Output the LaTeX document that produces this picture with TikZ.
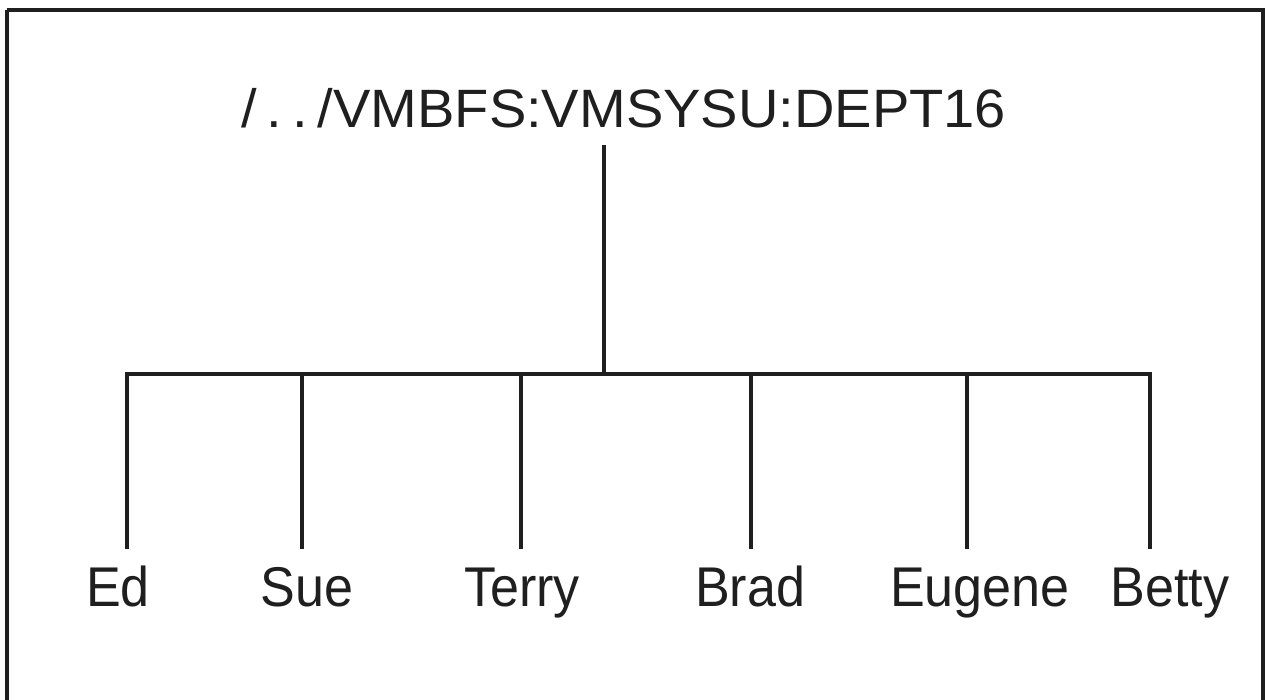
\documentclass[tikz,border=0pt]{standalone}
\usepackage{fontspec}
\setmainfont{Liberation Sans}
\newfontfamily\leaffont[FakeStretch=0.93]{Liberation Sans}
\newfontfamily\rootfont[FakeStretch=1.038]{Liberation Sans}
\tikzset{
  frame/.style={line width=4.5pt, draw=black!88},
  branch/.style={line width=4pt, draw=black!88},
  leaf/.style={anchor=base, inner xsep=0pt, inner ysep=17pt, outer sep=0pt,
    text height=40pt, text depth=12pt, text=black!88,
    font=\leaffont\fontsize{56pt}{60pt}\selectfont},
  rootlbl/.style={anchor=base west, inner sep=0pt, outer sep=0pt, text depth=17pt,
    text=black!88, font=\rootfont\fontsize{54pt}{58pt}\selectfont}
}
\begin{document}
\begin{tikzpicture}[x=1pt,y=-1pt]
\useasboundingbox (0,0) rectangle (1267,700);
\draw[frame] (7,10) -- (7,720) (7,10) -- (1263,10) -- (1263,720);
\node[rootlbl] (root) at (241,128) {/\hspace{10pt}.\hspace{10pt}.\hspace{10pt}/VMBFS:VMSYSU:DEPT16};
\coordinate (j) at (604,374);
\coordinate (b1) at (127,374);
\coordinate (b2) at (302,374);
\coordinate (b3) at (521,374);
\coordinate (b4) at (751,374);
\coordinate (b5) at (967,374);
\coordinate (b6) at (1150,374);
\node[leaf] (ed) at (118,606) {Ed};
\node[leaf] (sue) at (307,606) {Sue};
\node[leaf] (terry) at (522,606) {Terry};
\node[leaf] (brad) at (750,606) {Brad};
\node[leaf] (eugene) at (980,606) {Eugene};
\node[leaf] (betty) at (1170,606) {Betty};
\draw[branch] (root.south -| j) -- (j);
\draw[branch, line cap=rect] (b1) -- (b6);
\draw[branch] (b1) -- (b1 |- ed.north);
\draw[branch] (b2) -- (b2 |- sue.north);
\draw[branch] (b3) -- (b3 |- terry.north);
\draw[branch] (b4) -- (b4 |- brad.north);
\draw[branch] (b5) -- (b5 |- eugene.north);
\draw[branch] (b6) -- (b6 |- betty.north);
\end{tikzpicture}
\end{document}
